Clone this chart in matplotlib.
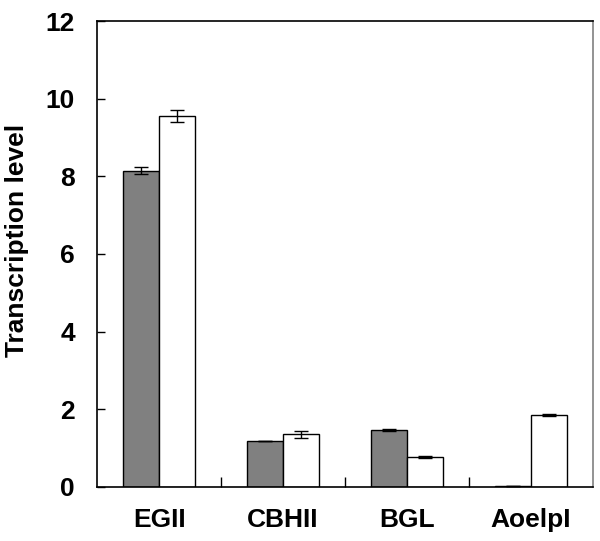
import numpy as np
import matplotlib
matplotlib.use('Agg')
import matplotlib.pyplot as plt

plt.rcParams['font.family'] = ['Liberation Sans', 'DejaVu Sans']
plt.rcParams['font.weight'] = 'bold'

# %% data

genes = ['EGII', 'CBHII', 'BGL', 'AoelpI']
control = [8.15, 1.18, 1.47, 0.02]
control_err = [0.10, 0.0, 0.02, 0.0]
treated = [9.56, 1.35, 0.77, 1.85]
treated_err = [0.16, 0.08, 0.02, 0.03]

# %% plot

fig = plt.figure(figsize=(6, 5.41), dpi=100)
ax = fig.add_axes([0.162, 0.100, 0.826, 0.861])

x = np.arange(len(genes))
w = 0.29

ax.bar(x - w/2, control, w, color='#808080', edgecolor='black', linewidth=1.0,
       yerr=control_err, error_kw=dict(ecolor='black', elinewidth=1.0, capsize=5, capthick=1.0))
ax.bar(x + w/2, treated, w, color='white', edgecolor='black', linewidth=1.0,
       yerr=treated_err, error_kw=dict(ecolor='black', elinewidth=1.0, capsize=5, capthick=1.0))

ax.set_xlim(-0.5, len(genes) - 0.5)
ax.set_ylim(0, 12)
ax.set_yticks(np.arange(0, 13, 2))
ax.set_yticklabels([str(v) for v in range(0, 13, 2)], fontsize=19, fontweight='bold')

ax.set_xticks(x)
ax.set_xticklabels(genes, fontsize=19, fontweight='bold')
ax.tick_params(axis='x', length=0, pad=15)
ax.set_xticks(np.arange(0.5, len(genes) - 0.5, 1), minor=True)
ax.tick_params(axis='x', which='minor', direction='in', length=7, width=1)
ax.tick_params(axis='y', direction='in', length=6, width=1, pad=16)

ax.set_ylabel('Transcription level', fontsize=19, fontweight='bold')
ax.yaxis.set_label_coords(-0.138, 0.53)

for side in ['left', 'bottom', 'top']:
    ax.spines[side].set_linewidth(1.2)
ax.spines['right'].set_color('#808080')
ax.spines['right'].set_linewidth(1.2)

fig.savefig('out.png', dpi=100)
